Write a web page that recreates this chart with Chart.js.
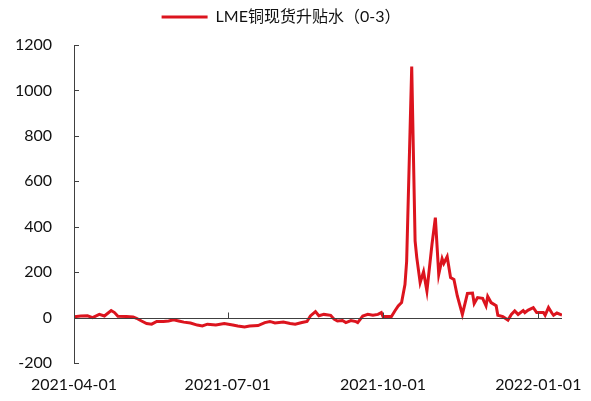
<!DOCTYPE html>
<html lang="zh-CN">
<head>
<meta charset="utf-8">
<title>LME铜现货升贴水（0-3）</title>
<script src="https://cdn.jsdelivr.net/npm/chart.js@4"></script>
<style>
  html, body { margin: 0; padding: 0; background: #ffffff; }
  #wrap { width: 591px; height: 401px; }
</style>
</head>
<body>
<div id="wrap"><canvas id="spreadChart"></canvas></div>
<script>
// LME copper cash-to-3M spread, daily, USD/t
// x values are days counted from 2021-04-01
const SERIES_LABEL = "LME铜现货升贴水（0-3）";

const spreadDays = [
  0, 4, 8, 11, 15, 18, 22, 24, 26, 31, 35, 37, 40, 43, 46, 49, 53, 56, 59, 62,
  65, 69, 73, 76, 79, 84, 89, 94, 97, 101, 104, 109, 113, 116, 119, 124, 128, 131, 135, 138,
  140, 143, 145, 148, 152, 154, 156, 159, 161, 164, 167, 168, 171, 174, 177, 180, 182, 183, 186, 188,
  190, 192, 194, 196, 197, 200, 202, 203, 205, 207, 209, 212, 214, 216, 218, 219, 221, 223, 225, 227,
  230, 233, 236, 237, 239, 242, 244, 245, 247, 250, 251, 254, 257, 259, 261, 263, 266, 267, 269, 272,
  274, 278, 279, 281, 283, 284, 286, 289
];

const spreadValues = [
  4, 7, 8, 0, 14, 7, 31, 22, 6, 5, 3, -3, -15, -26, -29, -17, -17, -15, -10, -15,
  -20, -24, -33, -37, -29, -33, -26, -33, -37, -41, -37, -35, -22, -17, -24, -20, -26, -29, -22, -17,
  7, 26, 8, 14, 10, -7, -15, -13, -22, -13, -18, -22, 7, 14, 10, 14, 22, 5, 5, 5,
  29, 51, 66, 145, 248, 1105, 337, 264, 154, 202, 117, 322, 440, 190, 259, 238, 268, 176, 168, 95,
  14, 106, 108, 62, 88, 85, 52, 93, 66, 52, 10, 4, -11, 14, 29, 14, 31, 22, 33, 44,
  22, 22, 10, 44, 20, 10, 20, 11
];

const xTickDays = [0, 91, 183, 275];
const xTickLabels = ["2021-04-01", "2021-07-01", "2021-10-01", "2022-01-01"];

const LINE_COLOR = "#dc141e";
const AXIS_COLOR = "#404040";
const TEXT_COLOR = "#111111";
const FONT_FAMILY = "Lato, 'Noto Sans CJK SC', 'Noto Sans', sans-serif";

// extra room under the legend row
const legendSpacer = {
  id: "legendSpacer",
  beforeInit(chart) {
    const fit = chart.legend.fit;
    chart.legend.fit = function () {
      fit.call(this);
      this.height += 10;
    };
  }
};

// horizontal axis runs along y = 0, ticks point up; y ticks point inward
const axisMarks = {
  id: "axisMarks",
  afterDatasetsDraw(chart) {
    const { ctx, chartArea, scales } = chart;
    const xScale = scales.x;
    const yScale = scales.y;
    const zeroY = Math.round(yScale.getPixelForValue(0)) + 0.5;

    ctx.save();
    ctx.strokeStyle = AXIS_COLOR;
    ctx.lineWidth = 1;
    ctx.beginPath();
    ctx.moveTo(chartArea.left, zeroY);
    ctx.lineTo(chartArea.right, zeroY);

    xTickDays.forEach((day) => {
      const x = Math.round(xScale.getPixelForValue(day)) + 0.5;
      ctx.moveTo(x, zeroY);
      ctx.lineTo(x, zeroY - 6);
    });

    yScale.ticks.forEach((tick) => {
      const y = Math.round(yScale.getPixelForValue(tick.value)) + 0.5;
      ctx.moveTo(chartArea.left, y);
      ctx.lineTo(chartArea.left + 5, y);
    });
    ctx.stroke();
    ctx.restore();
  }
};

function buildSpreadPoints() {
  return spreadDays.map((day, i) => ({ x: day, y: spreadValues[i] }));
}

function renderSpreadChart() {
  const canvas = document.getElementById("spreadChart");

  return new Chart(canvas.getContext("2d"), {
    type: "line",
    data: {
      datasets: [
        {
          label: SERIES_LABEL,
          data: buildSpreadPoints(),
          borderColor: LINE_COLOR,
          backgroundColor: LINE_COLOR,
          borderWidth: 3,
          pointRadius: 0,
          tension: 0,
          fill: false
        }
      ]
    },
    options: {
      responsive: true,
      maintainAspectRatio: false,
      animation: false,
      devicePixelRatio: 1,
      layout: {
        padding: { top: 0, right: 29, bottom: 0, left: 0 }
      },
      scales: {
        x: {
          type: "linear",
          min: 0,
          max: 289,
          afterBuildTicks: (scale) => {
            scale.ticks = xTickDays.map((value) => ({ value }));
          },
          afterFit: (scale) => {
            scale.height = 38;
            scale.paddingLeft = 0;
            scale.paddingRight = 0;
          },
          ticks: {
            autoSkip: false,
            maxRotation: 0,
            padding: 12,
            color: TEXT_COLOR,
            font: { family: FONT_FAMILY, size: 16 },
            callback: (value) => {
              const idx = xTickDays.indexOf(value);
              return idx >= 0 ? xTickLabels[idx] : "";
            }
          },
          grid: { display: false, drawTicks: false },
          border: { display: false }
        },
        y: {
          min: -200,
          max: 1200,
          afterFit: (scale) => {
            scale.width = 74;
          },
          ticks: {
            stepSize: 200,
            padding: 22,
            color: TEXT_COLOR,
            font: { family: FONT_FAMILY, size: 16 },
            callback: (value) => String(value)
          },
          grid: { display: false, drawTicks: false },
          border: { display: true, color: AXIS_COLOR, width: 1 }
        }
      },
      plugins: {
        legend: {
          display: true,
          position: "top",
          labels: {
            usePointStyle: true,
            pointStyle: "line",
            pointStyleWidth: 46,
            padding: 9,
            color: TEXT_COLOR,
            font: { family: FONT_FAMILY, size: 16 }
          }
        },
        tooltip: { enabled: false }
      }
    },
    plugins: [legendSpacer, axisMarks]
  });
}

renderSpreadChart();
</script>
</body>
</html>
